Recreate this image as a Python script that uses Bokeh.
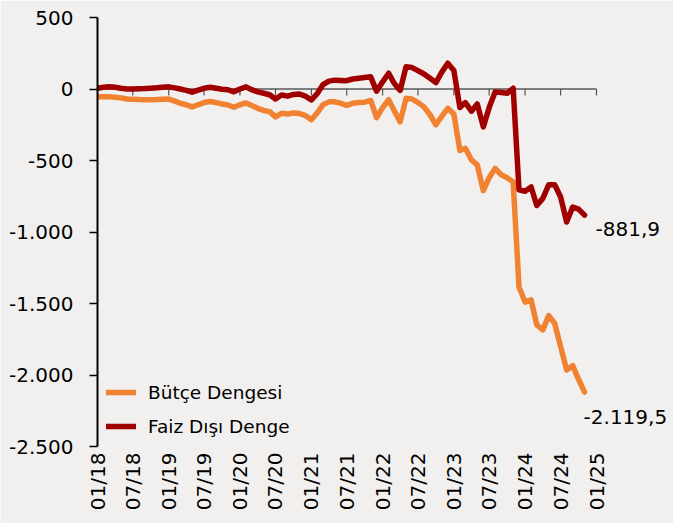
import pandas as pd
from bokeh.plotting import figure
from bokeh.models import (Range1d, FixedTicker, DatetimeTickFormatter, Label,
                          Legend, LegendItem)
from bokeh.embed import file_html
from bokeh.resources import INLINE

# ---------------- data ----------------
months = pd.date_range("2018-01-01", periods=83, freq="MS")

budget_balance = [
    -55, -55, -55, -57, -62, -70, -72, -74, -75, -75, -74, -72,
    -70, -85, -100, -110, -125, -110, -95, -88, -95, -105, -112, -128,
    -110, -98, -115, -135, -150, -158, -195, -170, -175, -168, -172, -185,
    -215, -165, -110, -90, -90, -100, -115, -100, -95, -92, -80, -200,
    -130, -75, -150, -230, -65, -70, -95, -125, -180, -250, -190, -135,
    -175, -430, -415, -495, -530, -710, -620, -555, -600, -620, -650, -1385,
    -1490, -1475, -1650, -1685, -1585, -1640, -1800, -1965, -1935, -2030, -2119.5,
]
primary_balance = [
    5, 12, 15, 12, 5, 0, 0, 2, 3, 5, 8, 12,
    15, 8, 0, -10, -22, -8, 5, 12, 5, -2, -5, -20,
    0, 15, -5, -20, -30, -40, -70, -42, -50, -38, -35, -50,
    -77, -30, 30, 55, 62, 60, 58, 70, 75, 80, 85, -15,
    50, 110, 40, -10, 155, 150, 128, 105, 75, 45, 120, 180,
    130, -130, -95, -155, -105, -265, -130, -20, -25, -30, 5, -705,
    -715, -685, -815, -765, -670, -670, -755, -930, -825, -840, -881.9,
]
series_names = ["Bütçe Dengesi", "Faiz Dışı Denge"]
series_colors = ["#f08232", "#a00000"]

x_tick_dates = pd.date_range("2018-01-01", "2025-01-01", freq="6MS")
y_ticks = [500, 0, -500, -1000, -1500, -2000, -2500]
y_tick_labels = ["500", "0", "-500", "-1.000", "-1.500", "-2.000", "-2.500"]

BG = "#f2f0ef"
FONT = "DejaVu Sans"

W, H = 673, 523
LEFT, TOP, BOTTOM = 97, 17, 77
AXIS_END_PX = 596  # pixel where the 01/25 tick sits


def ms(ts):
    return pd.Timestamp(ts).timestamp() * 1000.0


def tr_fmt(v):
    s = f"{v:,.1f}"
    return s.replace(",", "X").replace(".", ",").replace("X", ".")


x_ms = [ms(d) for d in months]
tick_ms = [ms(d) for d in x_tick_dates]

frame_w = W - LEFT
span = tick_ms[-1] - tick_ms[0]
x_end = tick_ms[0] + span * frame_w / (AXIS_END_PX - LEFT)

p = figure(width=W, height=H, x_axis_type="datetime",
           x_range=Range1d(tick_ms[0], x_end),
           y_range=Range1d(-2500, 500),
           output_backend="svg", toolbar_location=None,
           min_border_left=LEFT, min_border_right=0,
           min_border_top=TOP, min_border_bottom=BOTTOM,
           background_fill_color=BG, border_fill_color=BG,
           outline_line_color=None)
p.grid.visible = False

# zero line acting as category axis, with its tick marks
p.segment(x0=[tick_ms[0]], y0=[0], x1=[tick_ms[-1]], y1=[0],
          line_color="#7f7f7f", line_width=2, level="underlay")
p.segment(x0=tick_ms, y0=[0] * len(tick_ms), x1=tick_ms, y1=[-45] * len(tick_ms),
          line_color="#555555", line_width=1.2, level="underlay")

r1 = p.line(x_ms, budget_balance, line_color=series_colors[0], line_width=5.5,
            line_cap="round", line_join="round")
r2 = p.line(x_ms, primary_balance, line_color=series_colors[1], line_width=5.5,
            line_cap="round", line_join="round")

legend = Legend(items=[LegendItem(label=series_names[0], renderers=[r1]),
                       LegendItem(label=series_names[1], renderers=[r2])],
                location="bottom_left", margin=9, padding=5,
                background_fill_alpha=0, border_line_color=None,
                glyph_width=30, glyph_height=22, spacing=12, label_standoff=12,
                label_text_font=FONT, label_text_font_size="18.5px",
                label_text_color="#000000")
p.add_layout(legend)

# end value labels
p.add_layout(Label(x=x_ms[-1], y=primary_balance[-1], text=tr_fmt(primary_balance[-1]),
                   x_offset=11, y_offset=-14, text_baseline="middle",
                   text_font=FONT, text_font_size="20px", text_color="#000000"))
p.add_layout(Label(x=x_ms[-1], y=budget_balance[-1], text=tr_fmt(budget_balance[-1]),
                   x_offset=-1, y_offset=-25, text_baseline="middle",
                   text_font=FONT, text_font_size="20px", text_color="#000000"))

# x axis: labels only, at the bottom
xa = p.xaxis[0]
xa.ticker = FixedTicker(ticks=tick_ms)
fmt = "%m/%y"
xa.formatter = DatetimeTickFormatter(microseconds=fmt, milliseconds=fmt, seconds=fmt,
                                     minsec=fmt, minutes=fmt, hourmin=fmt, hours=fmt,
                                     days=fmt, months=fmt, years=fmt)
xa.axis_line_color = None
xa.major_tick_line_color = None
xa.minor_tick_line_color = None
xa.major_tick_out = 0
xa.major_label_standoff = 6
xa.major_label_orientation = 3.14159265 / 2
xa.major_label_text_font = FONT
xa.major_label_text_font_size = "20px"
xa.major_label_text_color = "#000000"

# y axis
ya = p.yaxis[0]
ya.ticker = FixedTicker(ticks=y_ticks)
ya.major_label_overrides = {int(t): l for t, l in zip(y_ticks, y_tick_labels)}
ya.axis_line_color = "#000000"
ya.axis_line_width = 2
ya.major_tick_line_color = "#000000"
ya.major_tick_line_width = 1.5
ya.major_tick_in = 0
ya.major_tick_out = 8
ya.minor_tick_line_color = None
ya.major_label_standoff = 16
ya.major_label_text_font = FONT
ya.major_label_text_font_size = "20px"
ya.major_label_text_color = "#000000"

html = file_html(p, INLINE)
html = html.replace("<body>", '<body style="background-color:%s;">' % BG, 1)
open("out.html", "w").write(html)
